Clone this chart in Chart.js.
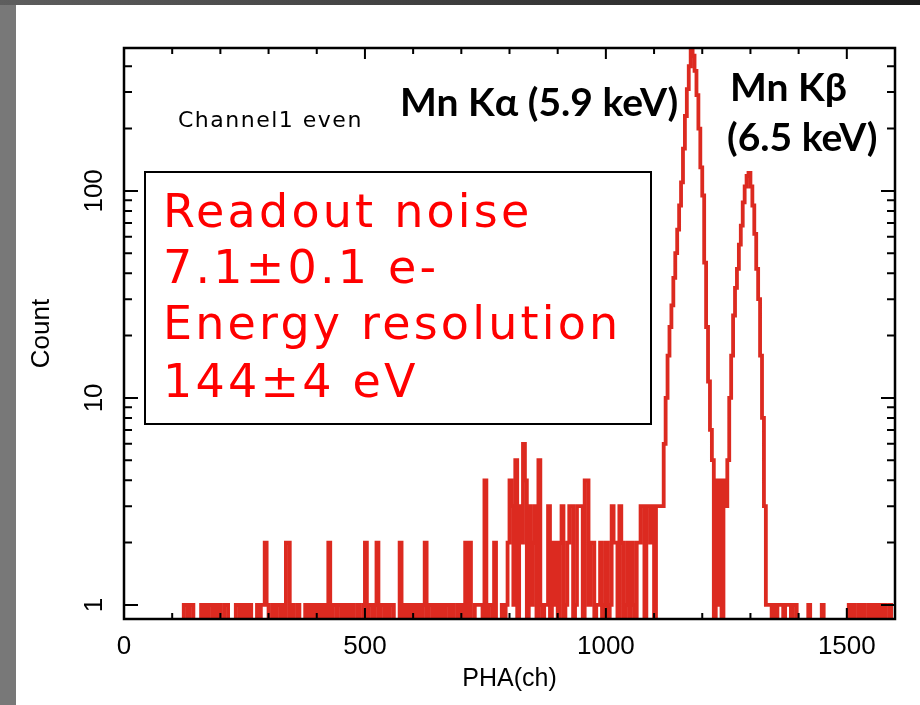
<!DOCTYPE html>
<html lang="en">
<head>
<meta charset="UTF-8">
<title>PHA spectrum - Channel1 even</title>
<script src="https://cdn.jsdelivr.net/npm/chart.js@4.4.1/dist/chart.umd.min.js"></script>
<style>
  body {
    margin: 0;
    width: 920px;
    height: 705px;
    overflow: hidden;
    background:
      linear-gradient(to right, #5e5e5e, #1c1c1c) top left / 100% 5px no-repeat,
      linear-gradient(#787878, #787878) top left / 16px 100% no-repeat,
      #fff;
  }
  canvas { position: absolute; left: 0; top: 0; }
</style>
</head>
<body>
<canvas id="espectro" width="920" height="705"></canvas>

<script>
    // histogram bins are 4 channels wide
    const BIN = 4;

    // sparse low part: bin start channel -> count
    const hitCh = [124, 128, 136, 140, 160, 168, 176, 180, 188, 196, 208, 212, 232, 236, 244, 252, 260,
        276, 284, 288, 292, 296, 308, 316, 320, 328, 336, 340, 348, 360, 376, 384, 392, 400, 408,
        416, 424, 432, 436, 444, 448, 456, 464, 472, 484, 496, 500, 508, 512, 520, 524, 532, 536,
        544, 552, 556, 572, 580, 588, 596, 604, 612, 620, 624, 632, 636, 644, 652, 660, 668, 672,
        680, 692, 700, 708, 716, 728, 732, 736];
    const hitCnt = [1, 1, 1, 1, 1, 1, 1, 1, 1, 1, 1, 1, 1, 1, 1, 1, 1,
        1, 1, 1, 2, 1, 1, 1, 1, 1, 2, 2, 1, 1, 1, 1, 1, 1, 1,
        1, 2, 1, 1, 1, 1, 1, 1, 1, 1, 1, 2, 1, 1, 1, 2, 1, 1,
        1, 1, 1, 2, 1, 1, 1, 1, 1, 1, 2, 1, 1, 1, 1, 1, 1, 1,
        1, 1, 1, 2, 2, 1, 1, 1];

    // dense noise bump, from channel 740
    const bumpStart = 740;
    const bumpCnt = [1, 0, 4, 0, 1, 1, 0, 2, 0, 0, 0, 1, 0, 1, 2, 4, 3, 1, 5, 0,
        3, 2, 6, 4, 0, 3, 1, 2, 3, 0, 5, 1, 0, 1, 1, 3, 0, 2, 1, 2,
        0, 2, 3, 0, 1, 2, 3, 3, 0, 1, 3, 3, 3, 0, 4, 4, 1, 2, 2, 0,
        1, 1, 2, 0, 1, 2, 0, 1, 3, 2, 2, 0, 3, 2, 0, 1, 2, 0, 2, 1,
        0, 2, 2, 3, 3, 0, 3, 3, 2, 3, 0, 3, 3];

    // Mn K alpha / K beta peaks, from channel 1112
    const peakStart = 1112;
    const peakCnt = [3, 3, 6, 10, 16, 22, 28, 38, 50, 65, 85, 110, 160, 230, 310, 400, 480, 450, 380, 290,
        200, 130, 95, 45, 22, 12, 7, 5, 0, 4, 1, 4, 0, 4, 3, 5, 10, 16, 25, 34,
        42, 55, 68, 88, 105, 118, 122, 105, 85, 62, 42, 30, 16, 8, 3, 1];

    // single counts above the peaks
    const tailCh = [1336, 1340, 1348, 1356, 1360, 1364, 1372, 1376, 1380, 1388, 1392, 1420, 1448,
        1504, 1512, 1524, 1532, 1544, 1552, 1560, 1568, 1576, 1588];

    const xTickVals = [0, 100, 200, 300, 400, 500, 600, 700, 800, 900, 1000, 1100, 1200, 1300, 1400, 1500, 1600];
    const xLabels = [0, 500, 1000, 1500];
    const yTickVals = [1, 2, 3, 4, 5, 6, 7, 8, 9, 10, 20, 30, 40, 50, 60, 70, 80, 90, 100, 200, 300, 400];
    const yLabels = [1, 10, 100];

    // build the full histogram (empty bins go below the axis)
    const contagem = new Array(1600 / BIN).fill(0);
    hitCh.forEach((c, i) => { contagem[c / BIN] = hitCnt[i]; });
    bumpCnt.forEach((n, i) => { contagem[bumpStart / BIN + i] = n; });
    peakCnt.forEach((n, i) => { contagem[peakStart / BIN + i] = n; });
    tailCh.forEach(c => { contagem[c / BIN] = 1; });

    const pontos = contagem.map((n, i) => ({ x: i * BIN, y: n > 0 ? n : 0.5 }));
    pontos.push({ x: 1600, y: 0.5 });

    const fonteEixo = { family: 'Liberation Sans', size: 26 };

    const moldura = {
        id: 'moldura',
        afterDatasetsDraw(chart) {
            const { ctx, chartArea: a, scales: { x, y } } = chart;
            ctx.save();
            ctx.strokeStyle = '#000';
            ctx.lineWidth = 2;
            ctx.beginPath();
            x.ticks.forEach(t => {
                const px = x.getPixelForValue(t.value);
                const len = xLabels.includes(t.value) ? 11 : 6;
                ctx.moveTo(px, a.bottom); ctx.lineTo(px, a.bottom - len);
                ctx.moveTo(px, a.top); ctx.lineTo(px, a.top + len);
            });
            y.ticks.forEach(t => {
                const py = y.getPixelForValue(t.value);
                const len = yLabels.includes(t.value) ? 14 : 8;
                ctx.moveTo(a.left, py); ctx.lineTo(a.left + len, py);
                ctx.moveTo(a.right, py); ctx.lineTo(a.right - len, py);
            });
            ctx.stroke();
            ctx.lineWidth = 2.5;
            ctx.strokeRect(a.left, a.top, a.right - a.left, a.bottom - a.top);
            ctx.restore();
        }
    };

    const anotacoes = {
        id: 'anotacoes',
        afterDraw(chart) {
            const ctx = chart.ctx;
            ctx.save();
            ctx.fillStyle = '#000';
            ctx.textBaseline = 'alphabetic';
            ctx.textAlign = 'left';

            ctx.font = '22px "DejaVu Sans"';
            ctx.letterSpacing = '1.5px';
            ctx.fillText('Channel1 even', 178, 127);

            ctx.letterSpacing = '0px';
            ctx.font = 'bold 39px Lato, "DejaVu Sans"';
            ctx.fillText('Mn K\u03b1 (5.9 keV)', 400, 116);
            ctx.fillText('Mn K\u03b2', 730, 101);
            ctx.fillText('(6.5 keV)', 727, 151);

            // text box
            ctx.strokeStyle = '#000';
            ctx.lineWidth = 2;
            ctx.strokeRect(145, 172, 506, 252);
            ctx.fillStyle = '#ff0000';
            ctx.font = '46px "DejaVu Sans"';
            ctx.letterSpacing = '3.2px';
            ctx.fillText('Readout noise', 163, 227);
            ctx.fillText('7.1\u00b10.1 e-', 163, 283);
            ctx.fillText('Energy resolution', 163, 339);
            ctx.fillText('144\u00b14 eV', 163, 397);
            ctx.restore();
        }
    };

    const ctx = document.getElementById('espectro').getContext('2d');

    new Chart(ctx, {
        type: 'line',
        data: {
            datasets: [{
                data: pontos,
                stepped: 'before',
                borderColor: '#dc2a20',
                borderWidth: 3.8,
                pointRadius: 0,
                fill: false,
                clip: 0
            }]
        },
        options: {
            responsive: false,
            animation: false,
            layout: { padding: { left: 16, top: 48, right: 25, bottom: 0 } },
            plugins: {
                legend: { display: false },
                tooltip: { enabled: false },
                title: { display: false }
            },
            scales: {
                x: {
                    type: 'linear',
                    min: 0,
                    max: 1600,
                    bounds: 'data',
                    afterBuildTicks: s => { s.ticks = xTickVals.map(v => ({ value: v })); },
                    afterFit: s => { s.height = 86; },
                    grid: { display: false, drawTicks: false },
                    border: { display: false },
                    ticks: {
                        autoSkip: false,
                        maxRotation: 0,
                        padding: 12,
                        color: '#000',
                        font: fonteEixo,
                        callback: v => xLabels.includes(v) ? String(v) : ''
                    },
                    title: {
                        display: true,
                        text: 'PHA(ch)',
                        color: '#000',
                        font: { family: 'Liberation Sans', size: 25 },
                        padding: { top: 0, bottom: 11 }
                    }
                },
                y: {
                    type: 'logarithmic',
                    min: 0.855,
                    max: 490,
                    bounds: 'data',
                    afterBuildTicks: s => { s.ticks = yTickVals.map(v => ({ value: v })); },
                    afterFit: s => { s.width = 108; },
                    grid: { display: false, drawTicks: false },
                    border: { display: false },
                    ticks: {
                        autoSkip: false,
                        minRotation: 90,
                        maxRotation: 90,
                        crossAlign: 'center',
                        padding: 7,
                        color: '#000',
                        font: fonteEixo,
                        callback: v => yLabels.includes(v) ? String(v) : ''
                    },
                    title: {
                        display: true,
                        text: 'Count',
                        color: '#000',
                        font: { family: 'Liberation Sans', size: 26 },
                        padding: { top: 10, bottom: 0 }
                    }
                }
            }
        },
        plugins: [moldura, anotacoes]
    });
</script>
</body>
</html>
